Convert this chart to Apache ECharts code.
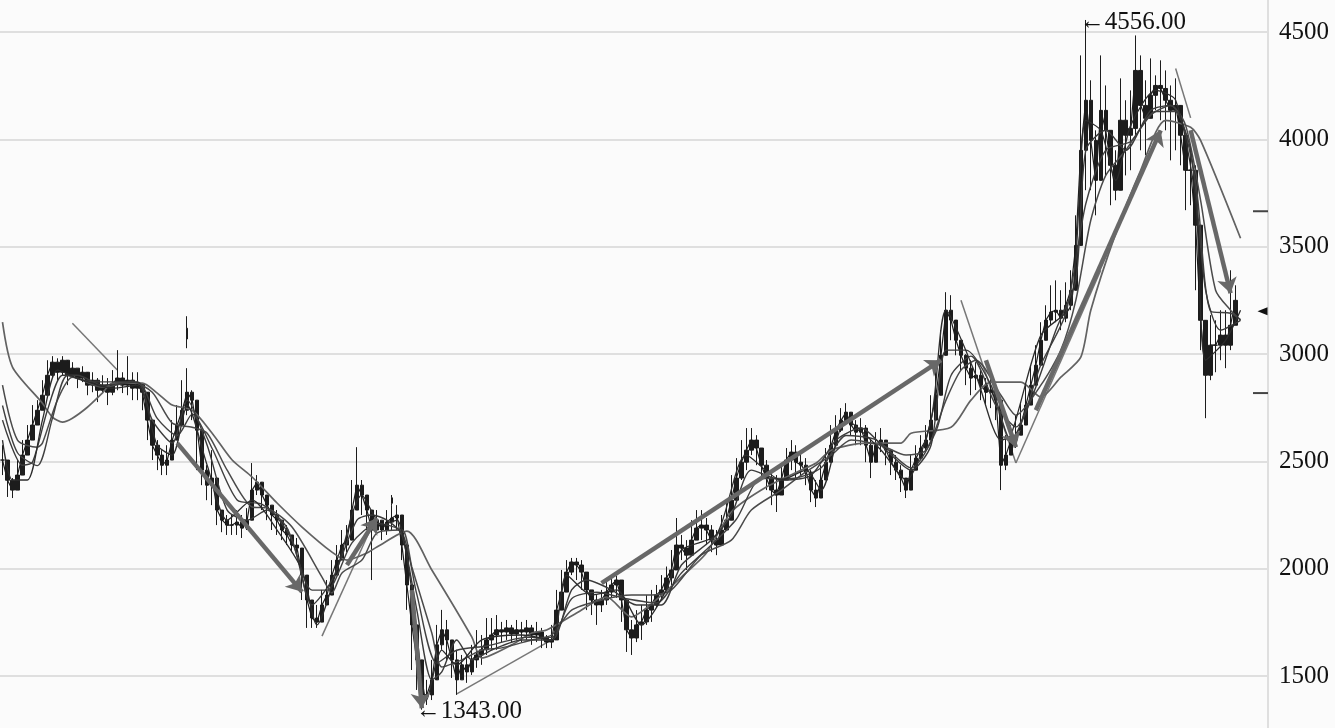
<!DOCTYPE html>
<html><head><meta charset="utf-8">
<style>html,body{margin:0;padding:0;background:#fbfbfb}#c{width:1335px;height:728px}</style>
<script src="https://cdn.jsdelivr.net/npm/echarts@6/dist/echarts.min.js"></script>
</head><body><div id="c"></div>
<script>
const yTicks=[1500,2000,2500,3000,3500,4000,4500];
const closes=[2506,2412,2366,2436,2529,2599,2669,2738,2808,2901,
2962,2915,2971,2901,2934,2888,2915,2855,2878,2831,
2855,2822,2859,2888,2855,2878,2841,2859,2822,2692,
2575,2529,2482,2506,2599,2669,2738,2822,2785,2645,
2459,2389,2422,2273,2226,2203,2203,2217,2189,2226,
2366,2403,2343,2296,2250,2226,2180,2157,2110,2096,
1970,1854,1770,1751,1831,1877,1970,2040,2110,2133,
2273,2389,2343,2273,2180,2226,2180,2217,2236,2250,
2110,1924,1738,1575,1412,1412,1482,1645,1715,1668,
1575,1482,1552,1519,1575,1598,1622,1668,1691,1715,
1705,1724,1696,1715,1705,1724,1691,1705,1677,1658,
1668,1807,1891,1984,2031,2017,1984,1901,1854,1831,
1854,1891,1924,1947,1854,1715,1677,1738,1752,1807,
1831,1877,1901,1957,1994,2110,2096,2063,2133,2189,
2203,2180,2133,2110,2180,2226,2319,2422,2496,2552,
2599,2562,2482,2422,2366,2343,2413,2506,2543,2496,
2482,2450,2366,2329,2413,2496,2575,2645,2692,2729,
2669,2636,2655,2575,2496,2575,2599,2552,2496,2459,
2422,2366,2459,2515,2562,2599,2692,2808,2994,3204,
3158,3064,2994,2934,2888,2901,2855,2822,2832,2785,
2482,2529,2599,2622,2669,2762,2855,2948,3064,3158,
3195,3204,3167,3227,3297,3506,3949,4182,3995,3809,
4135,4042,3879,3763,4089,4019,4051,4321,4158,4098,
4205,4251,4237,4182,4135,4158,4019,3856,3856,3600,
3157,2901,3041,3041,3088,3041,3134,3250];
const highs=[2575,2482,2422,2506,2599,2669,2762,2785,2878,2971,
2990,2980,2990,2962,2962,2934,2943,2901,2915,2888,
2901,2888,2925,3018,2915,2990,2915,2915,2855,2785,
2645,2599,2552,2575,2692,2762,2878,2934,2831,2785,
2575,2482,2552,2366,2273,2250,2250,2273,2250,2282,
2492,2436,2389,2343,2296,2273,2226,2203,2157,2143,
2087,1947,1854,1831,1901,1947,2040,2110,2180,2203,
2413,2566,2413,2343,2273,2273,2226,2273,2296,2296,
2203,2017,1854,1668,1505,1482,1575,1738,1808,1761,
1668,1622,1598,1598,1645,1714,1691,1770,1770,1784,
1752,1761,1738,1761,1752,1761,1738,1752,1724,1691,
1738,1901,1994,2040,2050,2050,2040,1970,1901,1877,
1901,1938,1956,1966,1924,1854,1761,1807,1831,1877,
1901,1924,1970,2010,2087,2236,2157,2133,2226,2273,
2273,2236,2203,2180,2250,2319,2436,2515,2599,2655,
2655,2622,2552,2506,2459,2436,2482,2562,2599,2575,
2552,2515,2459,2413,2482,2562,2669,2715,2748,2771,
2715,2692,2701,2669,2599,2636,2655,2599,2552,2529,
2482,2422,2529,2575,2622,2669,2808,2948,3111,3288,
3274,3134,3064,2999,2971,2962,2925,2888,2888,2855,
2599,2622,2669,2715,2776,2855,2948,3041,3148,3227,
3320,3343,3297,3334,3390,3646,4391,4556,4275,4042,
4391,4251,4042,3949,4284,4182,4228,4484,4391,4275,
4377,4298,4368,4321,4251,4284,4135,3995,3972,3879,
3343,3041,3181,3157,3204,3204,3390,3320];
const lows=[2436,2334,2329,2366,2459,2529,2599,2669,2738,2831,
2888,2878,2901,2855,2888,2841,2869,2808,2822,2776,
2822,2762,2808,2831,2818,2808,2785,2785,2738,2599,
2506,2459,2436,2436,2552,2622,2669,2715,2692,2459,
2389,2319,2296,2203,2170,2157,2157,2157,2143,2180,
2296,2343,2273,2226,2180,2157,2133,2110,2077,2063,
1854,1724,1724,1724,1761,1831,1901,1970,2063,2077,
2180,2273,2250,2180,1947,2180,2133,2157,2180,2180,
2040,1808,1528,1435,1343,1365,1388,1552,1622,1575,
1491,1412,1482,1468,1505,1538,1552,1598,1622,1622,
1658,1668,1658,1668,1658,1668,1645,1658,1630,1630,
1630,1738,1831,1924,1970,1947,1901,1807,1784,1738,
1798,1831,1864,1864,1752,1612,1598,1658,1668,1738,
1752,1817,1854,1901,1924,2040,2040,1994,2063,2133,
2133,2110,2077,2063,2110,2180,2250,2343,2413,2459,
2529,2482,2413,2366,2296,2264,2343,2436,2459,2422,
2436,2389,2310,2287,2357,2436,2506,2575,2636,2669,
2622,2575,2575,2496,2422,2529,2543,2482,2436,2413,
2357,2329,2413,2482,2506,2552,2622,2738,2855,3041,
3064,2994,2925,2855,2808,2832,2785,2762,2748,2692,
2366,2459,2529,2562,2622,2692,2785,2878,2994,3088,
3134,3148,3111,3148,3204,3320,3600,3763,3763,3646,
3856,3832,3693,3716,3832,3832,3856,4019,3949,3926,
4112,4135,4089,4042,3902,3949,3879,3670,3693,3297,
3018,2701,2878,2915,2971,2934,3018,3134];
const strayBars=[[37,3120,3070,3027,3176],[78,2330,2305,2296,2343]];
const maA=[[0,3148],[2,2939],[8,2771],[10,2706],[12,2683],[14,2701],[17,2752],[20,2818],[22,2864],[28,2864],[31,2818],[34,2762],[38,2738],[42,2631],[46,2506],[50,2427],[55,2306],[60,2194],[66,2077],[69,2040],[73,2073],[75,2101],[81,2175],[86,1994],[94,1682],[96,1584],[102,1645],[106,1700],[109,1714],[115,1793],[121,1868],[126,1775],[129,1817],[136,1961],[141,2073],[146,2264],[153,2380],[160,2459],[163,2492],[166,2552],[173,2585],[180,2585],[182,2631],[190,2659],[194,2785],[198,2869],[204,2869],[208,2799],[212,2892],[216,2985],[218,3204],[223,3562],[228,3856],[233,4088],[238,4056],[240,3995],[248,3539]];
const maB=[[0,2855],[3,2599],[7,2566],[8,2585],[11,2785],[14,2892],[20,2845],[26,2869],[30,2822],[34,2678],[38,2659],[41,2631],[45,2459],[50,2287],[53,2282],[58,2194],[64,1961],[66,1887],[68,1980],[72,2040],[75,2166],[80,2180],[82,2008],[86,1700],[88,1542],[92,1575],[96,1621],[100,1631],[106,1668],[110,1691],[114,1807],[120,1854],[126,1877],[130,1877],[134,1901],[140,2064],[146,2133],[150,2273],[156,2366],[160,2436],[166,2529],[170,2599],[176,2575],[181,2529],[185,2552],[189,2785],[192,2925],[195,2971],[200,2808],[203,2715],[208,2855],[212,3018],[215,3250],[218,3623],[221,3832],[225,3949],[230,4112],[234,4158],[237,4065],[240,3716],[243,3297],[246,3204],[248,3157]];
const maC=[[0,2692],[4,2482],[6,2496],[9,2738],[12,2901],[15,2901],[20,2855],[27,2869],[30,2692],[34,2585],[37,2785],[41,2575],[45,2273],[49,2226],[53,2273],[58,2133],[62,1831],[66,1947],[71,2226],[74,2250],[77,2226],[80,2157],[83,1807],[86,1482],[88,1519],[91,1668],[94,1575],[98,1621],[104,1668],[110,1668],[114,1901],[117,1947],[122,1901],[127,1831],[132,1831],[136,2017],[142,2133],[146,2250],[150,2459],[156,2413],[162,2436],[167,2599],[172,2655],[177,2552],[182,2459],[186,2575],[189,3018],[193,3018],[198,2855],[202,2599],[206,2785],[211,3111],[215,3344],[217,3949],[221,4042],[225,3949],[230,4135],[234,4158],[238,3949],[241,3297],[244,3111],[248,3157]];
const maD=[[0,2599],[2,2413],[5,2413],[8,2692],[11,2925],[15,2888],[22,2841],[27,2855],[31,2575],[34,2529],[37,2762],[41,2482],[45,2226],[50,2319],[55,2180],[60,1994],[63,1738],[67,1994],[72,2343],[76,2203],[79,2226],[82,1901],[85,1389],[88,1621],[91,1551],[96,1668],[104,1691],[110,1668],[113,1970],[118,1877],[123,1901],[128,1738],[133,1901],[136,2087],[143,2157],[149,2529],[156,2413],[161,2459],[164,2366],[169,2692],[176,2552],[181,2413],[186,2692],[189,3204],[195,2901],[200,2599],[202,2622],[208,3088],[214,3227],[217,4088],[220,4042],[223,3809],[226,4065],[231,4228],[235,4182],[239,3716],[241,2971],[245,3064],[248,3204]];
const maE=[[0,2760],[3,2540],[7,2480],[10,2700],[13,2900],[18,2870],[27,2870],[31,2700],[35,2620],[38,2720],[42,2560],[47,2320],[52,2300],[57,2190],[62,1900],[65,1900],[70,2120],[75,2210],[80,2170],[83,1880],[87,1560],[91,1620],[97,1640],[105,1680],[110,1680],[114,1860],[119,1890],[125,1860],[131,1840],[136,1980],[142,2110],[147,2230],[152,2420],[158,2420],[164,2470],[169,2620],[175,2600],[182,2470],[187,2640],[190,2900],[194,2990],[199,2760],[203,2660],[208,2950],[213,3190],[217,3700],[221,3950],[226,3990],[231,4130],[235,4130],[239,3800],[242,3200],[246,3190],[248,3160]];
const thinLines=[[[14,3143],[23,2925]],[[64,1686],[75,2250]],[[91,1417],[110,1668]],[[192,3250],[203,2492]],[[203,2492],[220,3390]],[[235,4330],[238,4100]]];
const arrows=[[[35,2585],[60,1892]],[[69,2017],[75,2236]],[[82,1900],[84,1350]],[[120,1933],[188,2971]],[[197,2971],[203,2566]],[[207,2738],[232,4042]],[[238,4042],[246,3283]]];
const sideTicks=[[252,3665],[252,2818]];
const lastMark=[[252,3199]];
const pinLabels=[{value:[217,4556],text:'←4556.00'},{value:[84,1343],text:'←1343.00'}];

const serif='"Liberation Serif","DejaVu Serif",serif';
const cats=Array.from({length:254},(_,i)=>String(i));
const candles=closes.map((c,i)=>[i?closes[i-1]:c,c,lows[i],highs[i]]);
const maStyle=(data,color,w)=>({type:'line',data,symbol:'none',smooth:0.25,clip:false,z:4,silent:true,lineStyle:{color,width:w}});
const candleStyle={color:'#1c1c1c',color0:'#1c1c1c',borderColor:'#1c1c1c',borderColor0:'#1c1c1c',borderWidth:1};
const chart=echarts.init(document.getElementById('c'),null,{renderer:'canvas'});
chart.setOption({
 animation:false,backgroundColor:'#fbfbfb',
 grid:{left:0,right:67,top:32,bottom:52,containLabel:false},
 xAxis:{type:'category',data:cats,show:false,boundaryGap:true},
 yAxis:{type:'value',position:'right',min:yTicks[0],max:yTicks[yTicks.length-1],interval:500,
  axisLine:{show:false},axisTick:{show:false},
  splitLine:{lineStyle:{color:'#dfdfdf',width:2}},
  axisLabel:{margin:11,color:'#111',fontFamily:serif,fontSize:25,formatter:v=>String(v)}},
 graphic:[{type:'line',shape:{x1:1268,y1:0,x2:1268,y2:728},style:{stroke:'#dfdfdf',lineWidth:2},silent:true}],
 series:[
  {type:'lines',coordinateSystem:'cartesian2d',polyline:false,clip:false,z:2,silent:true,
   data:thinLines.map(c=>({coords:c})),symbol:'none',lineStyle:{color:'#777',width:1.5,opacity:1}},
  {type:'lines',coordinateSystem:'cartesian2d',polyline:false,clip:false,z:5,silent:true,
   data:arrows.map(c=>({coords:c})),symbol:['none','arrow'],symbolSize:15,lineStyle:{color:'#686868',width:4.5,opacity:1}},
  {type:'candlestick',data:candles,clip:false,barWidth:4,z:3,silent:true,itemStyle:candleStyle},
  {type:'candlestick',data:strayBars,encode:{x:0,y:[1,2,3,4]},clip:false,barWidth:2,z:3,silent:true,itemStyle:candleStyle},
  {type:'line',data:closes,symbol:'none',clip:false,z:3,silent:true,lineStyle:{color:'#1c1c1c',width:1.2}},
  maStyle(maA,'#626262',1.7),maStyle(maB,'#4a4a4a',1.5),maStyle(maE,'#404040',1.4),maStyle(maC,'#3a3a3a',1.4),maStyle(maD,'#2c2c2c',1.3),
  {type:'scatter',data:sideTicks,symbol:'rect',symbolSize:[15,2],clip:false,z:3,silent:true,itemStyle:{color:'#444',opacity:1}},
  {type:'scatter',data:lastMark,symbol:'triangle',symbolSize:[8,10],symbolRotate:90,symbolOffset:[2,0],clip:false,z:3,silent:true,itemStyle:{color:'#111',opacity:1}},
  {type:'scatter',data:pinLabels.map(p=>({value:p.value,label:{formatter:p.text}})),symbolSize:0,clip:false,z:6,silent:true,itemStyle:{opacity:1},
   label:{show:true,position:'right',distance:1,offset:[-7,2],color:'#111',fontFamily:serif,fontSize:25}}
 ]
});
</script></body></html>
